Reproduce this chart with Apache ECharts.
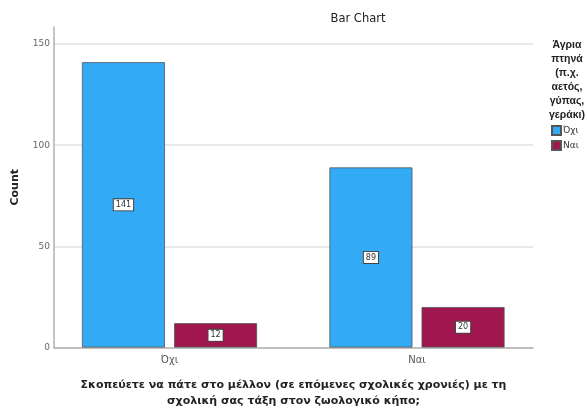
<!DOCTYPE html>
<html>
<head>
<meta charset="utf-8">
<script src="https://cdn.jsdelivr.net/npm/echarts@6/dist/echarts.min.js"></script>
<style>html,body{margin:0;padding:0;background:#fff}#c{width:587px;height:412px}</style>
</head>
<body>
<div id="c"></div>
<script>
const categories = ['Όχι', 'Ναι'];
const seriesNames = ['Όχι', 'Ναι'];
const valuesOxi = [141, 89];
const valuesNai = [12, 20];
const yTicks = [0, 50, 100, 150];
const titleText = 'Bar Chart';
const legendTitle = 'Άγρια\nπτηνά\n(π.χ.\nαετός,\nγύπας,\nγεράκι)';
const xName = 'Σκοπεύετε να πάτε στο μέλλον (σε επόμενες σχολικές χρονιές) με τη\nσχολική σας τάξη στον ζωολογικό κήπο;';
const yName = 'Count';

const FONT = '"DejaVu Sans", sans-serif';
const FONT2 = '"Liberation Sans", Arial, sans-serif';
const chart = echarts.init(document.getElementById('c'), null, {renderer: 'canvas'});

function toData(vals) { return vals.map((v, i) => [i, v]); }

const labelStyle = {
  show: true, position: 'inside', fontSize: 8, color: '#333', fontFamily: FONT,
  backgroundColor: '#fff', borderColor: '#444', borderWidth: 1, padding: [2, 2, 1, 2]
};

chart.setOption({
  animation: false,
  textStyle: {fontFamily: FONT},
  title: [
    {text: titleText, left: 353, top: 8, textAlign: 'center',
     textStyle: {fontSize: 11.5, fontWeight: 'normal', color: '#222', fontFamily: FONT}},
    {text: legendTitle, left: 562, top: 33, textAlign: 'center',
     textStyle: {fontSize: 10.5, fontWeight: 'bold', color: '#222', lineHeight: 14, fontFamily: FONT2}}
  ],
  legend: {
    orient: 'vertical', left: 546, top: 120, itemWidth: 9, itemHeight: 9, itemGap: 4, icon: 'rect',
    textStyle: {fontSize: 9, color: '#333', fontFamily: FONT, padding: [0, 0, 0, -3]},
    data: seriesNames
  },
  grid: {left: 54, right: 54, top: 27, bottom: 64.5, outerBoundsMode: 'none', containLabel: false},
  xAxis: {
    type: 'value', min: -0.4667, max: 1.4687,
    axisLine: {show: true, onZero: false, lineStyle: {color: '#aaa', width: 1.5}},
    axisTick: {show: false},
    splitLine: {show: false},
    axisLabel: {customValues: [0, 1], formatter: v => categories[Math.round(v)] || '',
      fontSize: 10, color: '#555', margin: 8, fontFamily: FONT},
    name: xName, nameLocation: 'middle', nameGap: 30,
    nameTextStyle: {fontSize: 11, fontWeight: 'bold', color: '#222', lineHeight: 16, fontFamily: FONT}
  },
  yAxis: {
    type: 'value', min: 0, max: 158.4, interval: 50,
    axisLine: {show: true, onZero: false, lineStyle: {color: '#b0b0b0', width: 1.5}},
    axisTick: {show: false},
    splitLine: {show: true, showMinLine: false, showMaxLine: false, lineStyle: {color: '#e2e2e2', width: 1.5}},
    axisLabel: {showMaxLabel: false, fontSize: 9, color: '#666', margin: 4, fontFamily: FONT,
      formatter: v => yTicks.includes(v) ? String(v) : ''},
    name: yName, nameLocation: 'middle', nameGap: 33, nameRotate: 90,
    nameTextStyle: {fontSize: 11, fontWeight: 'bold', color: '#222', fontFamily: FONT}
  },
  series: [
    {name: seriesNames[0], type: 'bar', data: toData(valuesOxi), barWidth: 83, barGap: '11%',
     itemStyle: {color: '#33aaf5', borderColor: '#555', borderWidth: 0.8}, label: labelStyle},
    {name: seriesNames[1], type: 'bar', data: toData(valuesNai), barWidth: 83, barGap: '11%',
     itemStyle: {color: '#a0174f', borderColor: '#555', borderWidth: 0.8}, label: labelStyle}
  ]
});
</script>
</body>
</html>
